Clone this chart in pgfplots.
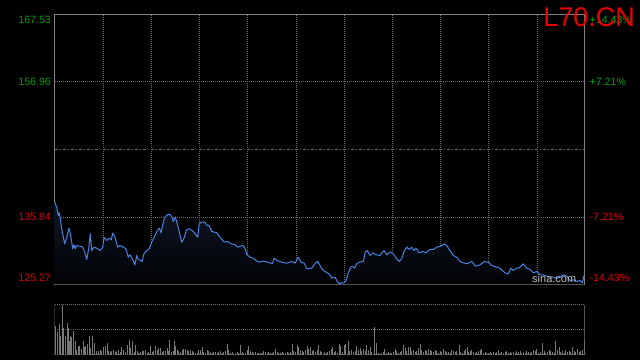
\documentclass[border=0pt]{standalone}
\usepackage{pgfplots}
\usepackage{pgfplotstable}
\pgfplotsset{compat=1.18}
\usepackage{fontspec}
\setmainfont{Liberation Sans}
\definecolor{gridc}{RGB}{105,105,105}
\definecolor{framec}{RGB}{130,130,130}
\definecolor{linec}{RGB}{74,130,225}
\definecolor{fillc}{RGB}{14,22,38}
\definecolor{upg}{RGB}{0,160,0}
\definecolor{dnr}{RGB}{220,0,0}
\definecolor{titr}{RGB}{235,0,0}
\definecolor{volc}{RGB}{120,120,120}
\definecolor{sinac}{RGB}{190,190,190}

\pgfplotstableread{
x y
54.7 138.15
56.7 137.37
58.3 136.07
59.3 136.49
60.3 135.55
62.0 133.72
64.7 131.64
66.7 132.67
69.0 134.08
70.7 132.94
72.7 130.86
74.0 131.48
75.3 130.86
76.7 131.37
80.0 131.26
82.7 131.11
84.7 130.33
86.7 129.18
88.7 130.86
90.3 133.21
91.7 130.59
94.0 131.11
96.7 130.95
100.0 130.59
102.7 131.11
104.0 132.67
106.7 132.16
109.3 132.52
111.3 132.27
112.7 133.30
115.0 132.67
117.7 131.11
120.0 131.37
123.3 131.11
126.0 130.86
128.3 129.54
130.0 129.92
132.7 129.18
135.0 128.35
136.7 129.81
138.3 129.18
140.7 129.03
142.0 128.87
144.0 130.08
146.7 130.59
149.3 130.86
151.7 131.89
155.0 132.94
157.3 133.72
159.3 134.08
161.0 133.36
163.3 135.02
165.0 135.80
167.3 136.18
170.0 136.23
172.0 135.80
173.3 135.13
175.3 135.80
177.3 134.77
179.3 133.46
181.7 131.89
184.0 132.52
186.7 133.88
189.3 133.99
193.3 133.57
197.7 132.67
199.3 134.77
201.0 135.02
205.0 135.02
207.0 134.51
209.0 134.51
211.7 133.57
216.7 133.36
220.0 132.67
224.3 131.89
227.7 132.00
231.0 131.64
235.0 131.48
237.7 131.11
240.0 131.26
243.3 131.37
245.0 130.95
247.0 129.92
250.0 129.54
253.3 129.39
258.3 128.76
263.3 128.92
268.3 128.76
272.3 128.51
274.3 129.39
276.7 129.03
281.7 128.76
286.7 128.60
291.7 128.87
295.0 128.60
298.3 129.54
301.0 128.76
304.3 128.60
306.7 127.73
311.7 127.82
315.0 128.51
317.7 128.92
321.7 127.73
325.0 127.30
327.3 127.10
330.0 126.79
331.7 126.26
335.0 126.41
337.3 125.74
339.3 125.38
341.7 125.54
344.0 125.54
346.0 125.90
348.3 127.10
350.7 127.98
352.7 128.13
354.7 127.82
356.7 128.51
359.3 128.76
363.3 128.87
365.3 130.33
367.3 130.59
370.0 129.81
372.7 130.23
376.0 129.92
380.0 129.81
381.7 130.23
384.0 130.59
386.7 129.92
390.0 130.33
393.3 130.08
396.7 129.29
399.3 128.87
401.7 129.29
404.0 130.43
406.7 131.11
409.3 130.75
411.7 131.11
414.0 130.59
416.0 130.95
419.3 130.23
423.3 130.43
426.0 130.23
430.0 130.75
433.3 130.75
436.7 131.11
440.7 131.26
444.0 131.64
446.7 131.37
450.0 130.59
453.3 129.81
456.7 129.54
460.0 128.87
463.3 128.67
466.7 128.51
471.7 128.87
475.7 128.13
480.0 128.35
484.3 128.87
488.3 128.76
491.7 128.24
496.7 127.98
500.0 127.82
502.3 127.46
505.0 127.10
508.3 126.94
511.0 127.82
513.3 127.46
516.7 127.82
520.0 127.98
523.3 128.51
526.7 127.82
530.0 127.62
533.3 127.10
536.7 127.30
540.0 126.79
543.3 126.79
546.7 126.57
550.0 126.41
553.3 126.41
556.7 126.26
560.0 126.41
563.3 126.79
566.7 126.57
570.0 125.90
573.3 126.01
576.7 125.74
580.0 125.90
582.3 125.54
584.0 126.68
}\price

\pgfplotstableread{
x v
55.0 85
57.0 67
59.0 92
60.3 55
62.3 150
63.3 80
65.3 55
67.3 95
68.3 80
69.3 40
70.3 55
71.3 52
73.3 70
75.3 40
76.7 15
78.3 25
79.7 27
81.3 18
83.3 42
84.3 22
85.7 27
87.3 32
89.3 55
90.7 20
92.3 55
94.3 35
96.7 12
98.3 12
100.0 15
101.7 10
103.3 22
105.0 25
107.0 35
108.7 12
110.0 8
111.7 12
113.3 15
115.0 8
116.7 12
118.7 15
120.0 8
121.3 22
123.3 15
125.0 8
127.0 30
129.0 45
130.3 20
132.0 40
134.0 8
135.3 28
137.0 10
138.7 5
140.3 8
142.0 12
143.7 10
145.3 15
147.0 5
148.7 8
150.3 25
152.0 8
153.7 10
155.3 25
157.0 15
158.7 20
160.3 20
162.0 8
163.7 12
165.3 10
167.0 20
168.7 10
169.3 45
171.3 8
173.0 10
174.3 42
175.3 25
177.0 15
178.7 10
180.3 8
182.0 15
183.7 18
185.3 18
187.0 15
188.7 12
190.3 15
192.0 10
193.7 8
195.3 5
197.0 5
198.7 15
200.3 15
202.0 22
203.7 8
205.3 5
207.0 15
208.7 12
210.3 8
212.0 5
213.7 8
215.3 8
217.0 5
218.7 8
220.3 12
222.0 5
223.7 8
225.3 12
227.0 33
228.7 15
230.3 5
232.0 8
233.7 2
235.3 5
237.0 8
238.7 5
240.3 28
242.0 8
243.7 5
245.3 5
247.0 15
248.7 27
250.3 12
252.0 8
253.7 5
255.3 8
257.0 5
258.7 5
260.3 5
262.0 5
263.7 12
265.3 8
267.0 5
268.7 8
270.3 5
272.0 5
273.7 8
275.3 18
277.0 8
278.7 5
280.3 5
282.0 8
283.7 5
285.3 5
287.0 8
288.7 5
290.3 8
292.0 33
293.7 12
295.3 8
297.0 30
298.7 22
300.3 15
302.0 12
303.7 8
305.3 15
307.0 25
308.7 18
310.3 22
312.0 12
313.7 15
315.3 8
317.0 15
318.7 30
320.0 12
321.7 8
324.3 8
326.0 5
327.7 8
329.3 12
331.0 18
332.3 22
334.0 8
335.7 12
337.3 5
339.0 32
340.7 25
342.3 8
344.3 28
345.7 32
348.3 42
349.7 12
351.7 15
353.3 8
355.0 12
356.7 25
358.3 15
360.3 20
361.7 12
363.3 18
365.0 12
366.7 28
368.3 15
370.0 22
371.7 8
374.3 83
376.3 35
378.3 5
380.0 2
381.7 5
383.3 8
384.7 18
386.7 5
388.3 8
390.0 5
391.7 5
393.3 8
395.0 18
396.7 12
398.3 5
400.0 8
401.7 12
403.3 28
405.0 20
406.7 10
408.3 22
410.0 22
411.7 12
413.3 15
415.0 8
416.7 12
418.3 20
420.0 32
421.7 15
423.3 8
425.0 15
426.7 12
428.3 18
430.0 15
431.7 12
433.3 8
435.0 15
436.7 10
438.3 5
440.0 12
441.7 8
443.3 18
445.0 12
446.7 8
448.3 8
450.0 5
451.7 15
453.3 10
455.0 8
456.7 12
459.3 30
460.7 8
462.3 5
464.0 12
465.7 18
467.0 22
468.3 8
470.0 12
471.7 15
473.3 8
475.0 5
476.7 8
478.3 12
480.0 15
481.3 17
483.0 5
485.0 8
486.7 5
488.3 5
490.0 8
491.7 5
493.3 8
495.0 5
496.7 8
498.3 15
500.0 5
501.7 8
503.3 5
505.0 8
506.7 12
508.3 5
510.0 8
511.7 5
513.3 8
515.0 5
516.7 12
518.3 8
520.0 12
521.7 5
523.3 8
525.0 5
526.7 12
528.3 8
530.0 5
531.7 8
533.3 15
535.0 12
536.7 18
538.3 5
540.0 8
542.3 35
544.0 10
545.7 5
547.3 8
549.0 15
550.7 12
552.3 8
554.0 5
555.7 40
557.3 15
559.0 22
560.7 8
562.3 12
564.0 5
565.7 15
567.3 8
569.0 10
570.7 8
572.3 22
574.0 12
575.7 8
577.3 18
579.0 8
580.7 12
582.3 15
584.0 42
}\vol

\begin{document}
\begin{tikzpicture}
\fill[black] (0,0) rectangle (640bp,360bp);

% price panel
\begin{axis}[
  scale only axis, width=530bp, height=270.2bp,
  at={(54.5bp,75.5bp)}, anchor=south west,
  xmin=54.5, xmax=584.5, ymin=125.27, ymax=167.53,
  xtick={103.2,151.4,199.6,247.8,296.0,344.2,392.4,440.6,488.8,537.0},
  ytick={135.84,156.96},
  extra y ticks={146.4},
  extra y tick labels={},
  extra y tick style={grid style={gridc, line width=0.8bp, dash pattern=on 3bp off 2bp on 1bp off 2bp}},
  xticklabels={}, yticklabels={},
  major tick length=0pt,
  grid=major,
  grid style={gridc, line width=0.8bp, dash pattern=on 1bp off 1bp},
  axis line style={framec, line width=0.8bp},
]
\addplot[draw=none, top color=fillc, bottom color=black!90!fillc] table[x=x,y=y] {\price}
  -- (axis cs:584.0,125.27) -- (axis cs:54.7,125.27) -- cycle;
\addplot[linec, line width=1bp, line join=round] table[x=x,y=y] {\price};
\end{axis}

% volume panel
\begin{axis}[
  scale only axis, width=530bp, height=50bp,
  at={(54.5bp,5.3bp)}, anchor=south west,
  xmin=54.5, xmax=584.5, ymin=0, ymax=150,
  xtick=\empty, ytick={0,75,150},
  yticklabels={}, major tick length=0pt,
  ymajorgrids,
  grid style={gridc, line width=0.8bp, dash pattern=on 1bp off 1bp},
  axis line style={draw=none},
]
\addplot[ycomb, volc, line width=0.9bp] table[x=x,y=v] {\vol};
\draw[framec, line width=0.8bp] (rel axis cs:0,0) -- (rel axis cs:0,1);
\draw[framec, line width=0.8bp] (rel axis cs:1,0) -- (rel axis cs:1,1);
\end{axis}

% axis value labels
\begin{scope}[every node/.style={inner sep=0pt, font=\fontsize{10.6bp}{12bp}\selectfont}]
\node[anchor=east, text=upg] at (51bp,339.7bp) {167.53};
\node[anchor=east, text=upg] at (51bp,278bp) {156.96};
\node[anchor=east, text=dnr] at (51bp,143.5bp) {135.84};
\node[anchor=east, text=dnr] at (51bp,82bp) {125.27};
\node[anchor=west, text=upg] at (589.5bp,339.7bp) {+14.43\%};
\node[anchor=west, text=upg] at (589.5bp,278bp) {+7.21\%};
\node[anchor=west, text=dnr] at (589.5bp,143.5bp) {-7.21\%};
\node[anchor=west, text=dnr] at (589.5bp,82bp) {-14.43\%};
\end{scope}
\node[anchor=base west, inner sep=0pt, text=sinac, font=\fontsize{11bp}{12bp}\selectfont] at (532bp,77.5bp) {sina.com};
\node[anchor=base east, inner sep=0pt, text=titr, font=\fontsize{27bp}{30bp}\selectfont] at (635bp,333.5bp) {L70.CN};

\pgfresetboundingbox
\path[use as bounding box] (0,0) rectangle (640bp,360bp);
\end{tikzpicture}
\end{document}
